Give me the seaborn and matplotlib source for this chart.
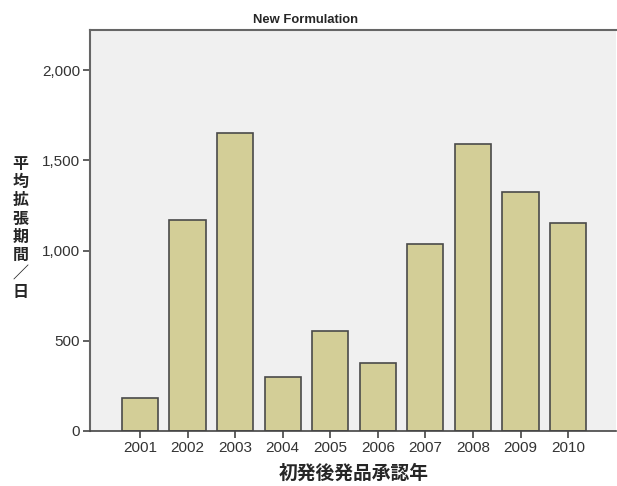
import pandas as pd
import matplotlib.pyplot as plt
import seaborn as sns

# Data
years = ["2001", "2002", "2003", "2004", "2005", "2006", "2007", "2008", "2009", "2010"]
mean_days = [183, 1169, 1651, 299, 554, 377, 1036, 1590, 1324, 1152]

TITLE = "New Formulation"
X_LABEL = "初発後発品承認年"
Y_LABEL = "平均拡張期間／日"

df = pd.DataFrame({"year": years, "days": mean_days})

sns.set_style("white")
plt.rcParams["font.family"] = ["Liberation Sans", "Noto Sans CJK JP", "DejaVu Sans"]

fig = plt.figure(figsize=(6.17, 4.86), dpi=100)
ax = fig.add_axes([0.1459, 0.1132, 0.852, 0.8251])
ax.set_facecolor("#F0F0F0")

sns.barplot(data=df, x="year", y="days", color="#D3CE97", edgecolor="#4a4a4a",
            linewidth=1.2, width=0.76, saturation=1, ax=ax)

ax.set_xlim(-1.05, 10.0)
ax.set_ylim(0, 2222)
ax.set_yticks([0, 500, 1000, 1500, 2000])
ax.set_yticklabels(["0", "500", "1,000", "1,500", "2,000"])

for side in ["left", "top"]:
    ax.spines[side].set_color("#666666")
    ax.spines[side].set_linewidth(1.5)
ax.spines["bottom"].set_color("#444444")
ax.spines["bottom"].set_linewidth(1.2)
ax.spines["right"].set_visible(False)

ax.tick_params(axis="both", direction="out", length=5, width=1.2, color="#444444",
               labelsize=11, labelcolor="#333333", pad=2)
ax.tick_params(axis="y", left=True)
ax.tick_params(axis="x", bottom=True)

ax.set_xlabel("")
ax.set_ylabel("")
fig.text(0.495, 0.959, TITLE, ha="center", va="center", fontsize=9.4,
         fontweight="bold", family=["Liberation Sans", "DejaVu Sans"])
fig.text(0.573, 0.026, X_LABEL, ha="center", va="center", fontsize=13.5,
         fontweight="bold", family=["Noto Sans CJK JP"])
fig.text(0.033, 0.531, "\n".join(Y_LABEL), ha="center", va="center", fontsize=11.5,
         fontweight="bold", linespacing=1.18, family=["Noto Sans CJK JP"])

fig.savefig("out.png", dpi=100)
